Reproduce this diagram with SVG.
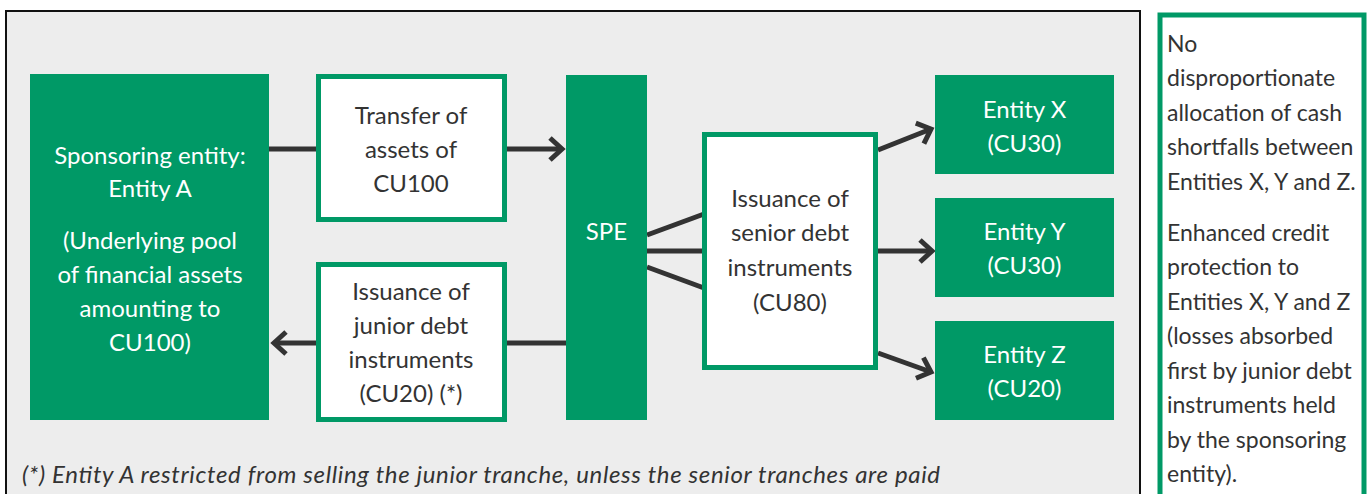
<svg xmlns="http://www.w3.org/2000/svg" width="1371" height="494" viewBox="0 0 1371 494">
<defs>
<style>
.t{font-family:Lato,"Open Sans","Liberation Sans",sans-serif;font-size:24px;text-anchor:middle}
.w{fill:#ffffff}
.d{fill:#333333}
.fill{fill:#009966}
.box{fill:#ffffff;stroke:#009966;stroke-width:5}
.ln{stroke:#333333;stroke-width:5;fill:none}
.note{font-family:Lato,"Open Sans","Liberation Sans",sans-serif;font-size:24px;fill:#333333}
.side{font-family:Lato,"Open Sans","Liberation Sans",sans-serif;font-size:23px;fill:#333333}
</style>
<marker id="ah" markerUnits="userSpaceOnUse" viewBox="-16 -14 20 28" refX="0" refY="0" markerWidth="20" markerHeight="28" orient="auto">
<path d="M-12,-11 L0,0 L-12,11" fill="none" stroke="#333333" stroke-width="5"/>
</marker>
</defs>
<rect x="6" y="11" width="1134" height="500" fill="#ededed" stroke="#111111" stroke-width="2"/>
<g id="connectors">
<path class="ln" d="M269,149 H562" marker-end="url(#ah)"/>
<path class="ln" d="M566,343 H274" marker-end="url(#ah)"/>
<path class="ln" d="M647,235 L704,214"/>
<path class="ln" d="M647,251 H704"/>
<path class="ln" d="M647,267 L704,288"/>
<path class="ln" d="M878,150 L931,129" marker-end="url(#ah)"/>
<path class="ln" d="M878,251 H932" marker-end="url(#ah)"/>
<path class="ln" d="M878,353 L931,372" marker-end="url(#ah)"/>
</g>
<g id="sponsor">
<rect class="fill" x="30" y="74" width="239" height="346"/>
<text class="t w" x="150" y="164">Sponsoring entity:</text>
<text class="t w" x="150" y="197">Entity A</text>
<text class="t w" x="150" y="249">(Underlying pool</text>
<text class="t w" x="150" y="283">of financial assets</text>
<text class="t w" x="150" y="317">amounting to</text>
<text class="t w" x="150" y="351">CU100)</text>
</g>
<g id="transfer">
<rect class="box" x="318.5" y="76.5" width="186" height="143"/>
<text class="t d" x="411" y="124">Transfer of</text>
<text class="t d" x="411" y="158">assets of</text>
<text class="t d" x="411" y="192">CU100</text>
</g>
<g id="junior">
<rect class="box" x="318.5" y="264.5" width="186" height="155"/>
<text class="t d" x="411" y="300">Issuance of</text>
<text class="t d" x="411" y="334">junior debt</text>
<text class="t d" x="411" y="368">instruments</text>
<text class="t d" x="411" y="402">(CU20) (*)</text>
</g>
<g id="spe">
<rect class="fill" x="566" y="75" width="81" height="345"/>
<text class="t w" x="606.5" y="240">SPE</text>
</g>
<g id="senior">
<rect class="box" x="704.5" y="134.5" width="171" height="233"/>
<text class="t d" x="790" y="207">Issuance of</text>
<text class="t d" x="790" y="241">senior debt</text>
<text class="t d" x="790" y="276">instruments</text>
<text class="t d" x="790" y="311">(CU80)</text>
</g>
<g id="entityX">
<rect class="fill" x="935" y="75" width="179" height="99"/>
<text class="t w" x="1024.5" y="118">Entity X</text>
<text class="t w" x="1024.5" y="152">(CU30)</text>
</g>
<g id="entityY">
<rect class="fill" x="935" y="198" width="179" height="99"/>
<text class="t w" x="1024.5" y="240">Entity Y</text>
<text class="t w" x="1024.5" y="274">(CU30)</text>
</g>
<g id="entityZ">
<rect class="fill" x="935" y="321" width="179" height="99"/>
<text class="t w" x="1024.5" y="363">Entity Z</text>
<text class="t w" x="1024.5" y="397">(CU20)</text>
</g>
<g id="footnote">
<text class="note" x="22" y="483" font-style="italic" textLength="918" lengthAdjust="spacing">(*) Entity A restricted from selling the junior tranche, unless the senior tranches are paid</text>
</g>
<g id="sidebox">
<rect x="1160" y="15" width="204" height="500" fill="#ffffff" stroke="#009966" stroke-width="5"/>
<text class="side" x="1167" y="52">No</text>
<text class="side" x="1167" y="86">disproportionate</text>
<text class="side" x="1167" y="121">allocation of cash</text>
<text class="side" x="1167" y="155">shortfalls between</text>
<text class="side" x="1167" y="190">Entities X, Y and Z.</text>
<text class="side" x="1167" y="241">Enhanced credit</text>
<text class="side" x="1167" y="275">protection to</text>
<text class="side" x="1167" y="310">Entities X, Y and Z</text>
<text class="side" x="1167" y="344">(losses absorbed</text>
<text class="side" x="1167" y="379">first by junior debt</text>
<text class="side" x="1167" y="413">instruments held</text>
<text class="side" x="1167" y="448">by the sponsoring</text>
<text class="side" x="1167" y="482">entity).</text>
</g>
</svg>
